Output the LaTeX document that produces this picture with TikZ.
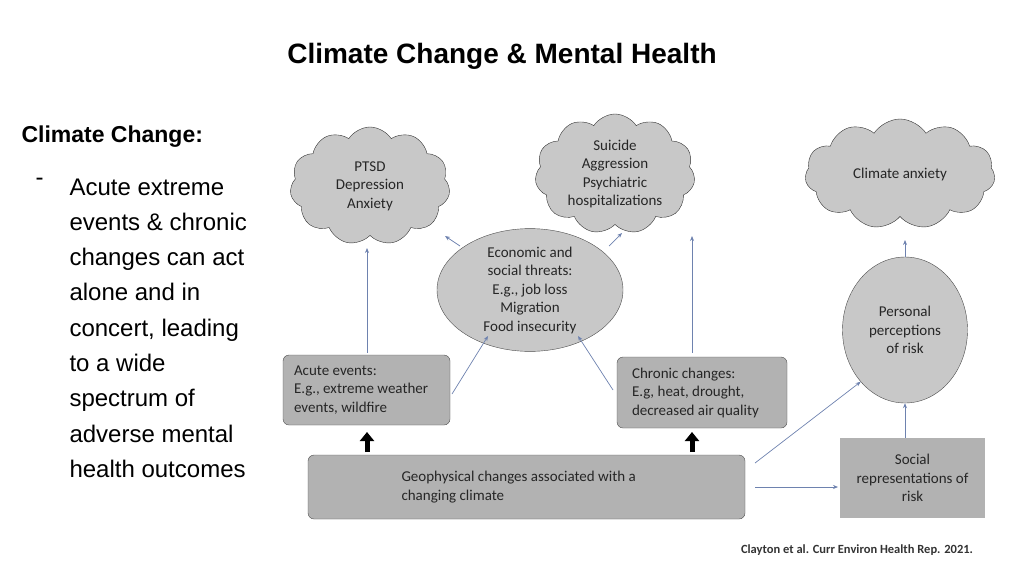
\documentclass[tikz,border=0pt]{standalone}
\usepackage{fontspec}
\setmainfont{Liberation Sans}
\newfontfamily\dia{Carlito}
\usetikzlibrary{shapes.symbols,shapes.geometric,arrows.meta}
\definecolor{cl}{RGB}{200,200,200}
\definecolor{bx}{RGB}{178,178,178}
\definecolor{ar}{RGB}{110,130,175}
\begin{document}
\begin{tikzpicture}[x=1pt,y=-1pt,
 txt/.style={font=\dia\fontsize{15}{18.5}\selectfont,align=center,text=black!85},
 cloudn/.style={txt,cloud,cloud puffs=11,cloud puff arc=115,draw=black!80,fill=cl,aspect=1.5,inner sep=0pt},
 ell/.style={txt,ellipse,draw=black!70,fill=cl,inner sep=0pt},
 rbox/.style={txt,rounded corners=6pt,draw=black!70,fill=bx,align=flush left},
 conn/.style={draw=ar,-{Stealth[length=5pt,width=4pt]},line width=0.7pt},
 big/.style={-{Triangle[length=9pt,width=14pt]},line width=5pt,black}]
\useasboundingbox (0,0) rectangle (1024,576);
\node[font=\bfseries\fontsize{28}{32}\selectfont] (title) at (502,56) {Climate Change \& Mental Health};
\node[font=\bfseries\fontsize{23}{26}\selectfont,anchor=west] (cc) at (18,137) {Climate Change:};
\node[anchor=north west,font=\fontsize{24}{35.3}\selectfont,align=left] (dash) at (32,175) {-};
\node[anchor=north west,font=\fontsize{24}{35.3}\selectfont,align=left] (body) at (66,175) {Acute extreme\\events \& chronic\\changes can act\\alone and in\\concert, leading\\to a wide\\spectrum of\\adverse mental\\health outcomes};
\node[cloudn,minimum width=160pt,minimum height=118pt] (c1) at (370,186) {PTSD\\Depression\\Anxiety};
\node[cloudn,minimum width=160pt,minimum height=120pt] (c2) at (615,174) {Suicide\\Aggression\\Psychiatric\\hospitalizations};
\node[cloudn,minimum width=190pt,minimum height=110pt] (c3) at (900,174) {Climate anxiety};
\node[ell,minimum width=186pt,minimum height=122pt] (eco) at (530,290) {Economic and\\social threats:\\E.g., job loss\\Migration\\Food insecurity};
\node[ell,minimum width=125pt,minimum height=146pt] (per) at (905,330) {Personal\\perceptions\\of risk};
\node[rbox,minimum width=167pt,minimum height=70pt,text width=145pt,inner xsep=11pt] (acu) at (366.5,390) {Acute events:\\E.g., extreme weather\\events, wildfire};
\node[rbox,minimum width=170pt,minimum height=71pt,text width=140pt,inner xsep=15pt] (chr) at (702,392.5) {Chronic changes:\\E.g, heat, drought,\\decreased air quality};
\node[rbox,minimum width=437pt,minimum height=64pt,text width=410pt] (geo) at (526.5,487) {\hspace*{80pt}Geophysical changes associated with a\\\hspace*{80pt}changing climate};
\node[txt,draw=none,fill=bx,minimum width=145pt,minimum height=80pt] (soc) at (912.5,478) {Social\\representations of\\risk};
\node[font=\dia\bfseries\fontsize{12.5}{14}\selectfont,text=black!80] (ref) at (857,550) {Clayton et al. Curr Environ Health Rep. 2021.};
\draw[conn] (acu.north -| 367,0) ++(0,-2) -- (367,248);
\draw[conn] (chr.north -| 692,0) ++(0,-4) -- (692,236);
\coordinate (e1) at (488,336);
\coordinate (e2) at (578,336);
\draw[conn] (452,394) -- (e1);
\draw[conn] (613,390) -- (e2);
\draw[conn] (460,246) -- (445,236);
\draw[conn] (609,246) -- (622,233);
\draw[conn] (per.north) -- (905,240);
\draw[conn] (soc.north -| 905,0) -- (per.south);
\draw[conn] (755,463) -- (per.south west);
\draw[conn] (755,487) -- (838,487);
\draw[big] (367,452) -- (367,432);
\draw[big] (692,452) -- (692,432);
\end{tikzpicture}
\end{document}
